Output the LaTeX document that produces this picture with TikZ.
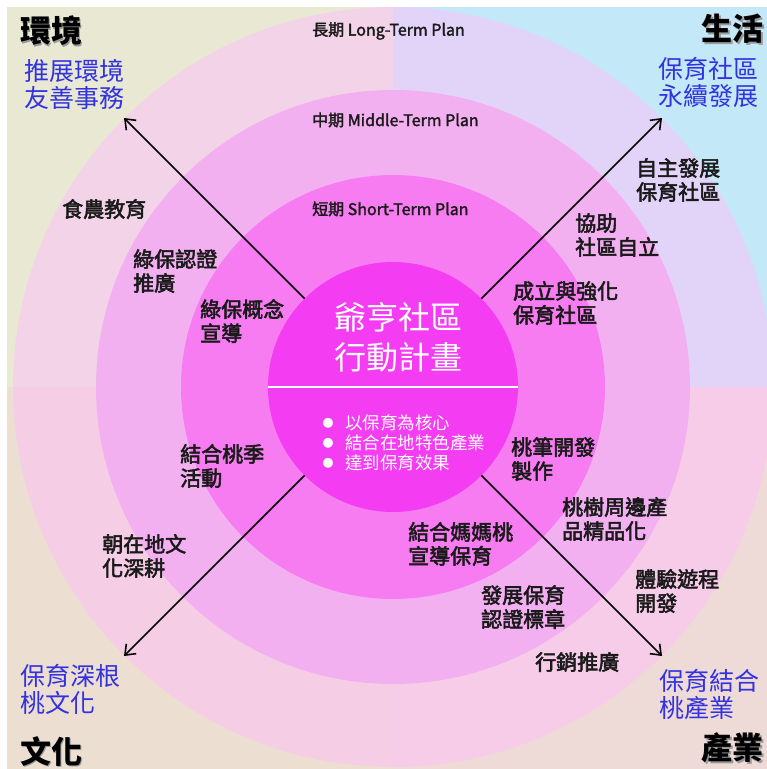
\documentclass[tikz,border=0pt]{standalone}
\usepackage{fontspec}
\setmainfont{Noto Sans CJK TC}
\newfontfamily\medfont{Noto Sans CJK TC}[FakeBold=2.6]
\newfontfamily\semifont{Noto Sans CJK TC}[FakeBold=2]
\usetikzlibrary{arrows.meta}
\definecolor{bgTL}{HTML}{E9E9D3}
\definecolor{bgTR}{HTML}{C3E8F8}
\definecolor{bgBL}{HTML}{EDDED2}
\definecolor{bgBR}{HTML}{EEDAD6}
\definecolor{ringOut}{HTML}{FDC2F8}
\definecolor{ringMid}{HTML}{F3B0F1}
\definecolor{ringIn}{HTML}{F77CF1}
\definecolor{coreC}{HTML}{F43CF2}
\definecolor{blueT}{HTML}{3232E0}
\definecolor{txt}{HTML}{1A1A1A}
\tikzset{
  lbl/.style={font=\medfont\fontsize{21}{24}\selectfont, text=txt, align=left, inner sep=0pt, anchor=west},
  goal/.style={font=\fontsize{25}{27}\selectfont, text=blueT, align=left, inner sep=0pt},
  corner/.style={font=\bfseries\fontsize{31}{32}\selectfont, text=black, inner sep=0pt},
  cornershadow/.style={font=\bfseries\fontsize{31}{32}\selectfont, text=black!40, inner sep=0pt},
  term/.style={font=\semifont\fontsize{16}{18}\selectfont, text=txt, inner sep=0pt, anchor=west},
  arr/.style={line width=1.6pt, black, -{Straight Barb[length=9pt,width=14pt,line width=1.6pt]}},
}
\newcommand{\bulletdot}{\makebox[22.5pt][l]{\raisebox{2.4pt}{\fontsize{11}{11}\selectfont ●}}}
\begin{document}
\begin{tikzpicture}[x=1pt,y=-1pt]
\useasboundingbox (0,0) rectangle (767,769);
\fill[white] (0,0) rectangle (767,769);
\coordinate (C) at (393,387);
\begin{scope}
\clip (7,7) rectangle (767,769);
\fill[bgTL] (7,7) rectangle (393,387);
\fill[bgTR] (393,7) rectangle (767,387);
\fill[bgBL] (7,387) rectangle (393,769);
\fill[bgBR] (393,387) rectangle (767,769);
\fill[ringOut, opacity=0.55] (C) circle[radius=380pt];
\fill[ringMid] (C) circle[radius=297pt];
\fill[ringIn] (C) circle[radius=212pt];
\end{scope}
\node[circle, fill=coreC, minimum size=250pt, inner sep=0pt, outer sep=0pt] (core) at (C) {};
\draw[white, line width=1.4pt] (core.west) -- (core.east);

% term labels
\node[term] (long) at (312,31) {長期 Long-Term Plan};
\node[term] (mid) at (312,120) {中期 Middle-Term Plan};
\node[term] (short) at (312,209) {短期 Short-Term Plan};

% core text
\node[font=\fontsize{32}{40}\selectfont, text=white, align=center, inner sep=0pt] (title) at (398,337) {爺亨社區\\行動計畫};
\node[font=\fontsize{17.5}{20}\selectfont, text=white, align=left, inner sep=0pt, anchor=west] (bul) at (322.5,443)
  {\bulletdot 以保育為核心\\\bulletdot 結合在地特色產業\\\bulletdot 達到保育效果};

% arrows
\coordinate (tl) at (124,118);
\coordinate (tr) at (662,118);
\coordinate (bl) at (124,656);
\coordinate (br) at (662,656);
\draw[arr] (core.135) -- (tl);
\draw[arr] (core.45) -- (tr);
\draw[arr] (core.-135) -- (bl);
\draw[arr] (core.-45) -- (br);

% corner labels
\node[cornershadow, anchor=west] (envS) at (21.5,32.5) {環境};
\node[corner, anchor=west] (env) at (20,31) {環境};
\node[cornershadow, anchor=east] (lifeS) at (765.5,30.5) {生活};
\node[corner, anchor=east] (life) at (764,29) {生活};
\node[cornershadow, anchor=west] (culS) at (21.5,752.5) {文化};
\node[corner, anchor=west] (cul) at (20,751) {文化};
\node[cornershadow, anchor=east] (indS) at (765.5,749.5) {產業};
\node[corner, anchor=east] (ind) at (764,748) {產業};

% goals
\node[goal, anchor=west] (g1) at (24,84) {推展環境\\友善事務};
\node[goal, anchor=east, align=right] (g2) at (759,82) {保育社區\\永續發展};
\node[goal, anchor=west] (g3) at (20,689) {保育深根\\桃文化};
\node[goal, anchor=west] (g4) at (659,694) {保育結合\\桃產業};

% environment labels
\node[lbl] (e1) at (62,209) {食農教育};
\node[lbl] (e2) at (133,271) {綠保認證\\推廣};
\node[lbl] (e3) at (200,321) {綠保概念\\宣導};
% life labels
\node[lbl] (l1) at (636,180) {自主發展\\保育社區};
\node[lbl] (l2) at (575,235) {協助\\社區自立};
\node[lbl] (l3) at (513,303) {成立與強化\\保育社區};
% culture labels
\node[lbl] (c1) at (180,466) {結合桃季\\活動};
\node[lbl] (c2) at (102,556) {朝在地文\\化深耕};
% industry labels
\node[lbl] (i1) at (511,459) {桃筆開發\\製作};
\node[lbl] (i2) at (562,519) {桃樹周邊產\\品精品化};
\node[lbl] (i3) at (408,544) {結合媽媽桃\\宣導保育};
\node[lbl] (i4) at (635,591) {體驗遊程\\開發};
\node[lbl] (i5) at (481,607) {發展保育\\認證標章};
\node[lbl] (i6) at (535,662) {行銷推廣};
\end{tikzpicture}
\end{document}
